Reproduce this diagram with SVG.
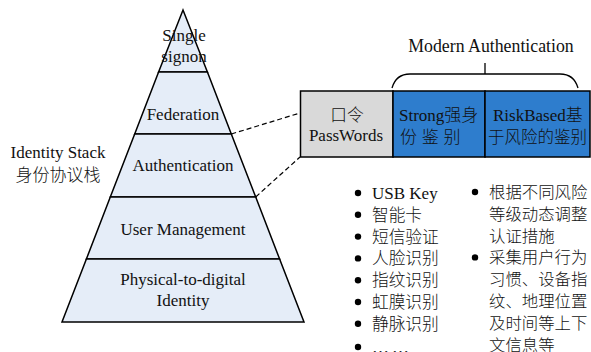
<svg xmlns="http://www.w3.org/2000/svg" width="591" height="352" viewBox="0 0 591 352">
  <style>
    .layer { fill: #e5edf8; stroke: #000; stroke-width: 1.5; }
    .lat { font-family: "Liberation Serif", "Noto Sans CJK SC", serif; font-size: 17px; fill: #111; }
    .cjk { font-family: "Noto Sans CJK SC", "Liberation Sans", sans-serif; font-size: 16.4px; font-weight: 300; fill: #111; }
    .box { stroke: #000; stroke-width: 1.5; }
    .dash { fill: none; stroke: #000; stroke-width: 1.2; stroke-dasharray: 5 3; }
    .brace { fill: none; stroke: #000; stroke-width: 1.3; }
    .dot { fill: #000; }
  </style>
  <rect width="591" height="352" fill="#fff"/>

  <!-- identity stack pyramid, one trapezoid per layer -->
  <g id="layer-sso">
    <polygon class="layer" points="183,10 207.4,72 158.6,72"/>
    <text class="lat" x="184" y="41" text-anchor="middle">Single</text>
    <text class="lat" x="184" y="62" text-anchor="middle">signon</text>
  </g>
  <g id="layer-federation">
    <polygon class="layer" points="158.6,72 207.4,72 231.3,134 134.7,134"/>
    <text class="lat" x="183" y="120" text-anchor="middle">Federation</text>
  </g>
  <g id="layer-authentication">
    <polygon class="layer" points="134.7,134 231.3,134 255.7,197 110.3,197"/>
    <text class="lat" x="183" y="171" text-anchor="middle">Authentication</text>
  </g>
  <g id="layer-user-management">
    <polygon class="layer" points="110.3,197 255.7,197 279.6,259 86.4,259"/>
    <text class="lat" x="183" y="235" text-anchor="middle">User Management</text>
  </g>
  <g id="layer-physical">
    <polygon class="layer" points="86.4,259 279.6,259 304,322 62,322"/>
    <text class="lat" x="183" y="285" text-anchor="middle">Physical-to-digital</text>
    <text class="lat" x="183" y="306" text-anchor="middle">Identity</text>
  </g>

  <!-- side caption -->
  <g id="stack-label">
    <text class="lat" x="58" y="158" text-anchor="middle">Identity Stack</text>
    <text class="cjk" x="58" y="181" text-anchor="middle" style="font-size:17px">身份协议栈</text>
  </g>

  <!-- authentication methods -->
  <g id="box-password">
    <rect class="box" x="300.5" y="91" width="92.5" height="66" fill="#d9d9d9"/>
    <text class="cjk" x="347" y="121" text-anchor="middle" style="font-size:16.7px">口令</text>
    <text class="lat" x="346" y="141" text-anchor="middle">PassWords</text>
  </g>
  <g id="box-strong">
    <rect class="box" x="393" y="91" width="92" height="66" fill="#2e7dcd"/>
    <text class="lat" x="399" y="121">Strong<tspan class="cjk" style="font-size:17px">强身</tspan></text>
    <text class="cjk" x="400" y="143" style="font-size:17px;letter-spacing:4.7px">份鉴别</text>
  </g>
  <g id="box-riskbased">
    <rect class="box" x="485" y="91" width="105" height="66" fill="#2e7dcd"/>
    <text class="lat" x="493" y="121">RiskBased<tspan class="cjk" style="font-size:17px">基</tspan></text>
    <text class="cjk" x="488" y="143" style="font-size:16.5px">于风险的鉴别</text>
  </g>

  <!-- brace grouping the modern methods -->
  <g id="modern-authentication">
    <path class="brace" d="M392,88 Q396,74 410,74 L560,74 Q574,74 578,88"/>
    <line class="brace" x1="485" y1="63" x2="485" y2="74"/>
    <text class="lat" x="491" y="52" text-anchor="middle" style="font-size:17.8px">Modern Authentication</text>
  </g>

  <!-- zoom lines from the authentication layer -->
  <g id="connectors">
    <line class="dash" x1="231.3" y1="134" x2="300" y2="113"/>
    <line class="dash" x1="255.7" y1="197" x2="300" y2="157"/>
  </g>

  <!-- strong authentication examples -->
  <g id="list-strong">
    <circle class="dot" cx="358" cy="193" r="3.2"/>
    <circle class="dot" cx="358" cy="214.8" r="3.2"/>
    <circle class="dot" cx="358" cy="236.6" r="3.2"/>
    <circle class="dot" cx="358" cy="258.4" r="3.2"/>
    <circle class="dot" cx="358" cy="280.2" r="3.2"/>
    <circle class="dot" cx="358" cy="302" r="3.2"/>
    <circle class="dot" cx="358" cy="323.8" r="3.2"/>
    <circle class="dot" cx="358" cy="347" r="3.2"/>
    <text class="lat" x="372" y="199">USB Key</text>
    <text class="cjk" x="372" y="220.8" style="font-size:16.7px">智能卡</text>
    <text class="cjk" x="372" y="242.6" style="font-size:16.7px">短信验证</text>
    <text class="cjk" x="372" y="264.4" style="font-size:16.7px">人脸识别</text>
    <text class="cjk" x="372" y="286.2" style="font-size:16.7px">指纹识别</text>
    <text class="cjk" x="372" y="308" style="font-size:16.7px">虹膜识别</text>
    <text class="cjk" x="372" y="329.8" style="font-size:16.7px">静脉识别</text>
    <text class="lat" x="372" y="352.5" style="letter-spacing:3px">……</text>
  </g>

  <!-- risk-based authentication notes -->
  <g id="list-riskbased">
    <circle class="dot" cx="475" cy="192" r="3.2"/>
    <circle class="dot" cx="475" cy="257.4" r="3.2"/>
    <text class="cjk" x="489" y="198">根据不同风险</text>
    <text class="cjk" x="489" y="219.8">等级动态调整</text>
    <text class="cjk" x="489" y="241.6">认证措施</text>
    <text class="cjk" x="489" y="263.4">采集用户行为</text>
    <text class="cjk" x="489" y="285.2">习惯、设备指</text>
    <text class="cjk" x="489" y="307">纹、地理位置</text>
    <text class="cjk" x="489" y="328.8">及时间等上下</text>
    <text class="cjk" x="489" y="350.6">文信息等</text>
  </g>
</svg>
